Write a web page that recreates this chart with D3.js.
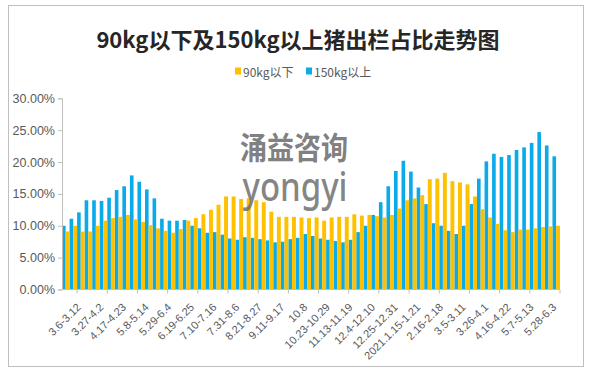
<!DOCTYPE html>
<html>
<head>
<meta charset="utf-8">
<script src="https://cdn.jsdelivr.net/npm/d3@7"></script>
<style>
body { margin: 0; background: #fff; }
#chart { width: 597px; height: 374px; }
text { font-family: "Liberation Sans", Arial, sans-serif; }
</style>
</head>
<body>
<div id="chart"></div>
<script>
// 90kg以下 share, weekly, 2020.3.6 - 2021.6
var under90 = [9.1, 10.0, 9.1, 9.1, 10.0, 10.8, 11.2, 11.4, 11.7, 11.0, 10.6, 10.1,
    9.6, 9.2, 8.9, 9.5, 10.8, 11.2, 11.8, 12.5, 13.3, 14.6, 14.6, 14.2,
    14.3, 14.0, 13.7, 12.2, 11.4, 11.4, 11.4, 11.3, 11.2, 11.3, 10.8, 11.3,
    11.4, 11.4, 11.8, 11.6, 11.7, 11.5, 11.3, 11.7, 12.7, 14.0, 14.3, 14.8,
    17.3, 17.4, 18.3, 17.0, 16.8, 16.5, 14.6, 12.6, 11.3, 10.3, 9.3, 9.0,
    9.4, 9.4, 9.6, 9.8, 9.9, 10.0];

// 150kg以上 share
var over150 = [10.0, 11.1, 12.1, 14.0, 14.0, 13.9, 14.4, 15.6, 16.2, 17.9, 16.9, 15.7,
    14.3, 11.1, 10.8, 10.8, 10.9, 10.0, 9.6, 8.9, 9.0, 8.6, 8.0, 7.8,
    8.2, 8.1, 7.9, 7.7, 7.4, 7.5, 7.9, 8.1, 8.7, 8.4, 8.0, 7.8,
    7.6, 7.4, 7.8, 9.0, 10.0, 11.7, 13.7, 16.2, 18.6, 20.2, 18.5, 16.0,
    13.4, 10.4, 10.0, 9.2, 8.7, 10.0, 13.4, 17.4, 20.1, 21.3, 20.8, 21.1,
    21.9, 22.3, 23.0, 24.7, 22.6, 20.9];

// every third week is labelled
var weekLabels = ["3.6-3.12", "3.27-4.2", "4.17-4.23", "5.8-5.14", "5.29-6.4", "6.19-6.25",
    "7.10-7.16", "7.31-8.6", "8.21-8.27", "9.11-9.17", "10.8", "10.23-10.29",
    "11.13-11.19", "12.4-12.10", "12.25-12.31", "2021.1.15-1.21", "2.16-2.18", "3.5-3.11",
    "3.26-4.1", "4.16-4.22", "5.7-5.13", "5.28-6.3"];

var yTicks = [0, 5, 10, 15, 20, 25, 30];
var seriesNames = ["90kg以下", "150kg以上"];
var colors = {under: "#FFC000", over: "#0BAAE8"};

var width = 597;
var height = 374;
var margin = {top: 98.3, left: 62, right: 37, bottom: 84.5};
var n = over150.length;

var svg = d3.select("#chart")
    .append("svg")
    .attr("width", width)
    .attr("height", height);

// chart frame
svg.append("rect")
    .attr("x", 8.5)
    .attr("y", 5.5)
    .attr("width", 575)
    .attr("height", 361)
    .attr("fill", "#fff")
    .attr("stroke", "#bfbfbf");

var xScale = d3.scaleBand()
    .domain(d3.range(n))
    .range([margin.left, width - margin.right])
    .paddingInner(0)
    .paddingOuter(0);

var yScale = d3.scaleLinear()
    .domain([0, 30])
    .range([height - margin.bottom, margin.top]);

var bw = xScale.bandwidth();

// bars
svg.append("g").selectAll("rect")
    .data(over150)
    .enter()
    .append("rect")
    .attr("x", function(d, i) { return xScale(i); })
    .attr("y", function(d) { return yScale(d); })
    .attr("width", bw * 0.48)
    .attr("height", function(d) { return yScale(0) - yScale(d); })
    .attr("fill", colors.over);

svg.append("g").selectAll("rect")
    .data(under90)
    .enter()
    .append("rect")
    .attr("x", function(d, i) { return xScale(i) + bw * 0.48; })
    .attr("y", function(d) { return yScale(d); })
    .attr("width", bw * 0.52)
    .attr("height", function(d) { return yScale(0) - yScale(d); })
    .attr("fill", colors.under);

// y axis
var yAxis = svg.append("g")
    .attr("transform", `translate(${margin.left},0)`)
    .call(d3.axisLeft(yScale)
        .tickValues(yTicks)
        .tickSize(4)
        .tickPadding(3)
        .tickFormat(function(d) { return d3.format(".2f")(d) + "%"; }));

yAxis.selectAll("path, line").attr("stroke", "#bfbfbf");
yAxis.selectAll("text")
    .attr("fill", "#595959")
    .style("font-size", "12.5px");

// x axis line and ticks (tick every 4 weeks, offset by 2)
var x0 = margin.left, x1 = width - margin.right, yBase = yScale(0);
svg.append("line")
    .attr("x1", x0).attr("x2", x1)
    .attr("y1", yBase).attr("y2", yBase)
    .attr("stroke", "#bfbfbf");

var tickIdx = d3.range(2, n + 1, 4);
svg.append("g").selectAll("line")
    .data(tickIdx)
    .enter()
    .append("line")
    .attr("x1", function(k) { return k < n ? xScale(k) : x1; })
    .attr("x2", function(k) { return k < n ? xScale(k) : x1; })
    .attr("y1", yBase)
    .attr("y2", yBase + 4)
    .attr("stroke", "#bfbfbf");

svg.append("g").selectAll("text")
    .data(weekLabels)
    .enter()
    .append("text")
    .attr("transform", function(d, i) {
        var x = xScale(i * 3) + bw / 2 + 13;
        return `translate(${x},305) rotate(-45)`;
    })
    .attr("text-anchor", "end")
    .attr("dominant-baseline", "central")
    .attr("fill", "#595959")
    .style("font-size", "11px")
    .text(function(d) { return d; });

// title
svg.append("text")
    .attr("x", 298)
    .attr("y", 48)
    .attr("text-anchor", "middle")
    .attr("fill", "#262626")
    .style("font-family", "'Noto Sans CJK SC', sans-serif")
    .style("font-weight", "bold")
    .style("font-size", "22px")
    .text("90kg以下及150kg以上猪出栏占比走势图");

// legend
var legend = svg.append("g").attr("transform", "translate(235,71)");
var legendItems = [
    {name: seriesNames[0], color: colors.under, x: 0},
    {name: seriesNames[1], color: colors.over, x: 71}
];
legendItems.forEach(function(item) {
    legend.append("rect")
        .attr("x", item.x)
        .attr("y", -3.5)
        .attr("width", 6)
        .attr("height", 7)
        .attr("fill", item.color);
    legend.append("text")
        .attr("x", item.x + 8)
        .attr("y", 0)
        .attr("dominant-baseline", "central")
        .attr("fill", "#595959")
        .style("font-family", "'Noto Sans CJK SC', sans-serif")
        .style("font-size", "12px")
        .text(item.name);
});

// watermark
svg.append("text")
    .attr("x", 294)
    .attr("y", 159)
    .attr("text-anchor", "middle")
    .attr("fill", "#6f6f6f")
    .attr("fill-opacity", 0.9)
    .attr("textLength", 108)
    .attr("lengthAdjust", "spacingAndGlyphs")
    .style("font-family", "'Noto Sans CJK SC', sans-serif")
    .style("font-weight", "bold")
    .style("font-size", "31px")
    .text("涌益咨询");

svg.append("text")
    .attr("x", 295)
    .attr("y", 201)
    .attr("text-anchor", "middle")
    .attr("fill", "#6f6f6f")
    .attr("fill-opacity", 0.85)
    .attr("textLength", 105)
    .attr("lengthAdjust", "spacingAndGlyphs")
    .style("font-family", "'Noto Sans', sans-serif")
    .style("font-weight", "500")
    .style("font-size", "40px")
    .text("yongyi");
</script>
</body>
</html>
